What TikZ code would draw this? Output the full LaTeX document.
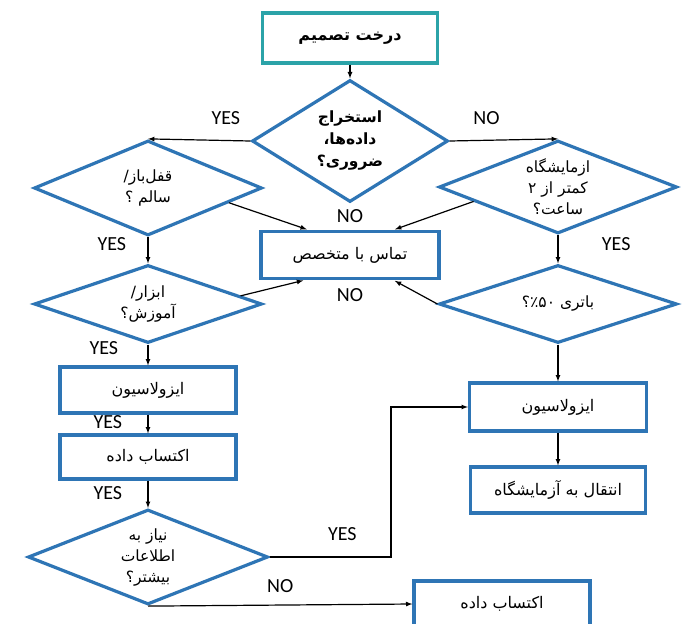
\documentclass[tikz,border=0pt]{standalone}
\usepackage{fontspec}
\setmainfont{Carlito}
\newfontfamily\arabicfont[Script=Arabic]{DejaVu Sans}
\TeXXeTstate=1
\usetikzlibrary{shapes.geometric,positioning,calc}
\definecolor{boxblue}{rgb}{0.18, 0.46, 0.71}
\definecolor{tealbox}{rgb}{0.17, 0.64, 0.66}
\newcommand{\fa}[1]{{\arabicfont\beginR #1\endR}}

\tikzset{
  stepbox/.style={rectangle, draw=boxblue, line width=3.2pt, fill=white, minimum width=176pt, minimum height=46pt, inner sep=0pt, font=\fontsize{16}{19}\selectfont},
  question/.style={diamond, draw=boxblue, line width=3.2pt, fill=white, inner sep=0pt, align=center, font=\fontsize{15.5}{21}\selectfont},
  lbl/.style={font=\fontsize{20}{22}\selectfont},
}

\begin{document}
\begin{tikzpicture}[x=1pt, y=-1pt, >=latex, line width=1.2pt]
      \path[use as bounding box, fill=white] (0,0) rectangle (691,624);

      \node[stepbox, draw=tealbox, minimum width=175pt, minimum height=50pt, font=\fontsize{16}{19}\selectfont\bfseries] (title) at (350,38) {\fa{درخت تصمیم}};
      \node[question, shape aspect=1.6, minimum width=196pt, minimum height=122pt, font=\fontsize{15.5}{22}\selectfont\bfseries] (extract) at (350,141) {\fa{استخراج}\\\fa{داده‌ها،}\\\fa{ضروری؟}};
      \node[question, shape aspect=2.4, minimum width=228pt, minimum height=95pt] (lockok) at (148,188) {\fa{قفل‌باز/}\\\fa{سالم ؟}};
      \node[question, shape aspect=2.56, minimum width=238pt, minimum height=93pt] (labtime) at (558,187) {\fa{ازمایشگاه}\\\fa{کمتر از ۲}\\\fa{ساعت؟}};
      \node[stepbox, minimum width=178pt, minimum height=47pt] (expert) at (350,255) {\fa{تماس با متخصص}};
      \node[question, shape aspect=2.9, minimum width=228pt, minimum height=78pt] (tools) at (148,304) {\fa{ابزار/}\\\fa{آموزش؟}};
      \node[question, shape aspect=3, minimum width=238pt, minimum height=78pt] (battery) at (558,304) {\fa{باتری \beginL ۵۰\endL ٪؟}};
      \node[stepbox] (isoleft) at (148,390) {\fa{ایزولاسیون}};
      \node[stepbox, minimum height=44pt] (acqleft) at (148,457) {\fa{اکتساب داده}};
      \node[question, shape aspect=2.5, minimum width=240pt, minimum height=95pt] (moreinfo) at (148,557) {\fa{نیاز به}\\\fa{اطلاعات}\\\fa{بیشتر؟}};
      \node[stepbox, minimum width=177pt, minimum height=48pt] (isoright) at (558,407) {\fa{ایزولاسیون}};
      \node[stepbox, minimum width=175pt] (transfer) at (558,490) {\fa{انتقال به آزمایشگاه}};
      \node[stepbox] (acqright) at (502,604) {\fa{اکتساب داده}};

      \draw[->] (title) -- (extract);
      \draw[->] (extract.west) -- (lockok.north) node[lbl, pos=0.24, above=12pt] {YES};
      \draw[->] (extract.east) -- (labtime.north) node[lbl, pos=0.34, above=12pt] {NO};

      \draw[->, shorten >=1.5pt] ($(lockok.east)!0.3!(lockok.south)$) -- ($(expert.north west)!0.27!(expert.north east)$);
      \draw[->, shorten >=1.5pt] ($(labtime.west)!0.3!(labtime.south)$) -- ($(expert.north west)!0.74!(expert.north east)$);
      \node[lbl, above=3pt of expert] (noup) {NO};
      \draw[->, shorten >=1.5pt] ($(tools.east)!0.2!(tools.north)$) -- ($(expert.south west)!0.25!(expert.south east)$);
      \draw[->, shorten >=1.5pt] (battery.west) -- ($(expert.south west)!0.74!(expert.south east)$);
      \node[lbl, below=4pt of expert] (nodown) {NO};

      \draw[->] (lockok) -- (tools) node[lbl, pos=0.27, left=18pt] {YES};
      \draw[->] (labtime) -- (battery) node[lbl, pos=0.3, right=40pt] {YES};
      \draw[->] (tools) -- (isoleft) node[lbl, pos=0.17, left=26pt] {YES};
      \draw[->] (isoleft) -- (acqleft) node[lbl, pos=0.4, left=22pt] {YES};
      \draw[->] (acqleft) -- (moreinfo) node[lbl, pos=0.47, left=22pt] {YES};

      \draw[->] (moreinfo.east) -| ([xshift=-77pt]isoright.west) node[lbl, pos=0.3, above=12pt] {YES} |- (isoright.west);
      \draw[->] (moreinfo.south) -- (acqright.west) node[lbl, midway, above=8pt] {NO};
      \draw[->] (battery) -- (isoright);
      \draw[->] (isoright) -- (transfer);

\end{tikzpicture}
\end{document}
